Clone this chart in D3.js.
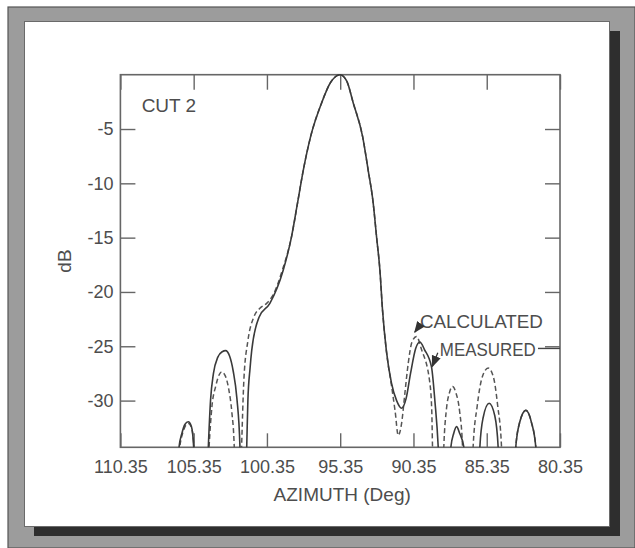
<!DOCTYPE html>
<html lang="en">
  <head>
    <meta charset="UTF-8" />
    <title>Cut 2</title>
    <style>
      body { margin: 0; background: #fff; }
      svg text { font-family: "Liberation Sans", Arial, sans-serif; fill: #4d4d4d; }
    </style>
  </head>
  <body>
    <svg id="svg" width="635" height="548"></svg>

    <script src="https://d3js.org/d3.v7.min.js"></script>
    <script>
      // [azimuth deg, dB] -- points below the axis are nulls, clipped
      const measured = [
        [106.6, -40], [106.35, -34.3], [106.15, -33.0], [105.95, -32.2], [105.72, -31.95],
        [105.5, -32.4], [105.35, -34.3], [105.2, -40],
        [104.5, -40], [104.35, -34.3], [104.2, -30], [104.0, -27.5], [103.7, -26.0],
        [103.4, -25.5], [103.17, -25.4], [102.9, -25.9], [102.65, -27.3], [102.4, -29.8],
        [102.19, -34.3], [102.1, -40],
        [101.85, -40], [101.73, -34.3], [101.65, -30], [101.5, -27], [101.39, -25.4],
        [100.88, -22.3], [100.15, -21.05], [99.24, -18.0], [98.67, -14.9], [98.26, -11.8],
        [97.87, -8.8], [97.37, -5.7], [96.62, -2.6], [96.0, -0.7], [95.35, 0],
        [94.9, -0.6], [94.46, -2.6], [93.82, -5.7], [93.44, -8.8], [93.1, -11.8],
        [92.87, -14.9], [92.64, -18.0], [92.46, -21.7], [92.2, -25.4], [91.85, -28.4],
        [91.5, -30.0], [91.16, -30.7], [90.85, -29.8], [90.55, -27.5], [90.2, -25.2],
        [89.91, -24.6], [89.6, -25.3], [89.12, -26.9], [88.89, -30], [88.66, -34.3], [88.5, -40],
        [87.9, -40], [87.8, -34.3], [87.6, -33.0], [87.41, -32.4], [87.2, -33.0],
        [86.91, -34.3], [86.8, -40],
        [85.95, -40], [85.82, -34.3], [85.6, -31.6], [85.19, -30.25], [84.8, -31.4],
        [84.57, -34.3], [84.45, -40],
        [83.5, -40], [83.37, -34.3], [83.1, -32.0], [82.68, -30.9], [82.3, -32.0],
        [82.0, -34.3], [81.9, -40],
      ];

      const calculated = [
        [106.6, -40], [106.3, -34.3], [106.1, -33.0], [105.9, -32.3], [105.7, -32.1],
        [105.5, -32.5], [105.33, -34.3], [105.2, -40],
        [104.5, -40], [104.3, -34.3], [104.1, -30.5], [103.85, -28.7], [103.6, -27.6],
        [103.44, -27.35], [103.2, -27.7], [102.95, -29.0], [102.75, -31.0], [102.58, -34.3],
        [102.5, -40],
        [102.2, -40], [102.08, -34.3], [101.92, -28], [101.65, -24.5], [101.24, -22.3],
        [100.83, -21.5], [100.37, -21.05], [99.9, -20.2], [99.3, -18.0], [98.67, -14.9],
        [98.26, -11.8], [97.87, -8.8], [97.37, -5.7], [96.62, -2.6], [96.0, -0.7],
        [95.35, 0], [94.9, -0.6], [94.46, -2.6], [93.82, -5.7], [93.44, -8.8],
        [93.1, -11.8], [92.87, -14.9], [92.64, -18.0], [92.46, -21.7], [92.2, -25.4],
        [91.85, -28.6], [91.6, -31.0], [91.39, -33.2], [91.15, -32.0], [90.95, -29.5],
        [90.7, -26.5], [90.45, -24.6], [90.14, -24.1], [89.8, -25.3], [89.23, -28.4],
        [89.1, -31], [89.05, -34.3], [88.95, -40],
        [88.4, -40], [88.28, -34.3], [88.1, -30.8], [87.9, -29.3], [87.68, -28.7],
        [87.45, -29.3], [87.2, -31.0], [87.0, -34.3], [86.9, -40],
        [86.4, -40], [86.28, -34.3], [86.0, -30.5], [85.65, -27.8], [85.25, -27.0],
        [84.9, -27.8], [84.6, -30.5], [84.34, -34.3], [84.2, -40],
        [83.5, -40], [83.37, -34.3], [83.1, -32.0], [82.68, -30.9], [82.3, -32.0],
        [82.0, -34.3], [81.9, -40],
      ];

      const xTicks = [110.35, 105.35, 100.35, 95.35, 90.35, 85.35, 80.35];
      const yTicks = [-5, -10, -15, -20, -25, -30];

      const svg = d3.select("#svg");

      // page frame: grey card, white panel with drop shadow
      svg.append("rect").attr("x", 8).attr("y", 7).attr("width", 627).attr("height", 541)
        .attr("fill", "#9c9c9c").attr("stroke", "#555").attr("stroke-width", 1.2);
      svg.append("rect").attr("x", 34).attr("y", 31).attr("width", 586).attr("height", 505)
        .attr("fill", "#2e2e2e");
      svg.append("rect").attr("x", 24.5).attr("y", 21.5).attr("width", 585).attr("height", 505)
        .attr("fill", "#fff").attr("stroke", "#6a6a6a").attr("stroke-width", 1);

      const m = { left: 120.4, right: 560, top: 74.7, bottom: 447.3 };

      const x = d3.scaleLinear().domain([110.35, 80.35]).range([m.left, m.right]);
      const y = d3.scaleLinear().domain([-34.3, 0]).range([m.bottom, m.top]);

      svg.append("clipPath").attr("id", "plot")
        .append("rect").attr("x", m.left).attr("y", m.top - 2)
        .attr("width", m.right - m.left).attr("height", m.bottom - m.top + 2);

      const tickStyle = (g) => {
        g.select(".domain").remove();
        g.selectAll(".tick line").attr("stroke", "#666").attr("stroke-width", 1.4);
        g.selectAll(".tick text").attr("font-size", 18).attr("fill", "#4d4d4d");
      };

      svg.append("g").attr("transform", `translate(0,${m.bottom})`)
        .call(d3.axisBottom(x).tickValues(xTicks).tickSize(-14).tickPadding(13)
          .tickFormat((d) => d.toFixed(2)))
        .call(tickStyle);
      svg.append("g").attr("transform", `translate(0,${m.top})`)
        .call(d3.axisTop(x).tickValues(xTicks).tickSize(-15).tickFormat(""))
        .call(tickStyle);
      svg.append("g").attr("transform", `translate(${m.left},0)`)
        .call(d3.axisLeft(y).tickValues(yTicks).tickSize(-15).tickPadding(7)
          .tickFormat((d) => String(d)))
        .call(tickStyle);
      svg.append("g").attr("transform", `translate(${m.right},0)`)
        .call(d3.axisRight(y).tickValues(yTicks).tickSize(-15).tickFormat(""))
        .call(tickStyle);

      svg.append("rect").attr("x", m.left).attr("y", m.top)
        .attr("width", m.right - m.left).attr("height", m.bottom - m.top)
        .attr("fill", "none").attr("stroke", "#666").attr("stroke-width", 1.6);

      const line = d3.line()
        .x((d) => x(d[0]))
        .y((d) => y(d[1]))
        .curve(d3.curveMonotoneX);

      const curves = svg.append("g").attr("clip-path", "url(#plot)");
      curves.append("path").datum(calculated)
        .attr("d", line).attr("fill", "none")
        .attr("stroke", "#555").attr("stroke-width", 1.5)
        .attr("stroke-dasharray", "5,3");
      curves.append("path").datum(measured)
        .attr("d", line).attr("fill", "none")
        .attr("stroke", "#3a3a3a").attr("stroke-width", 1.6);

      // labels
      svg.append("text").attr("x", x(108.9)).attr("y", y(-3.4))
        .attr("font-size", 19).text("CUT 2");
      svg.append("text").attr("x", (m.left + m.right) / 2 + 2).attr("y", 501)
        .attr("text-anchor", "middle").attr("font-size", 19).text("AZIMUTH (Deg)");
      svg.append("text").attr("transform", `translate(71,${(m.top + m.bottom) / 2}) rotate(-90)`)
        .attr("text-anchor", "middle").attr("font-size", 19).text("dB");

      // annotations
      svg.append("defs").append("marker").attr("id", "head")
        .attr("viewBox", "0 0 10 10").attr("refX", 9).attr("refY", 5)
        .attr("markerWidth", 9).attr("markerHeight", 9).attr("orient", "auto")
        .append("path").attr("d", "M0,1 L10,5 L0,9 z").attr("fill", "#333");

      svg.append("text").attr("x", x(89.91)).attr("y", y(-23.3))
        .attr("font-size", 19).attr("textLength", 123).attr("lengthAdjust", "spacingAndGlyphs")
        .text("CALCULATED");
      svg.append("line")
        .attr("x1", x(89.87)).attr("y1", y(-22.98)).attr("x2", x(90.26)).attr("y2", y(-23.7))
        .attr("stroke", "#333").attr("stroke-width", 1.3).attr("marker-end", "url(#head)");

      svg.append("text").attr("x", x(88.55)).attr("y", y(-25.9))
        .attr("font-size", 18.5).attr("textLength", 96).attr("lengthAdjust", "spacingAndGlyphs")
        .text("MEASURED");
      svg.append("line")
        .attr("x1", x(81.85)).attr("y1", y(-25.2)).attr("x2", m.right).attr("y2", y(-25.2))
        .attr("stroke", "#444").attr("stroke-width", 1.4);
      svg.append("line")
        .attr("x1", x(88.69)).attr("y1", y(-25.6)).attr("x2", x(89.06)).attr("y2", y(-26.85))
        .attr("stroke", "#333").attr("stroke-width", 1.3).attr("marker-end", "url(#head)");
    </script>
  </body>
</html>
